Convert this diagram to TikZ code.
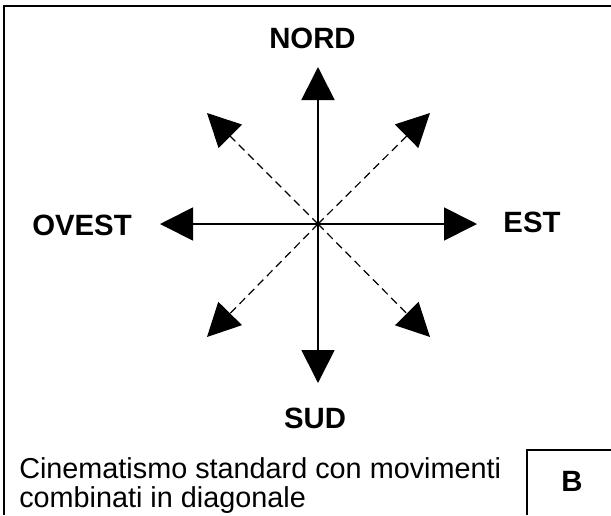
\documentclass[tikz,border=0pt]{standalone}
\usepackage{fontspec}
\setmainfont{Liberation Sans}
\usetikzlibrary{arrows.meta}
\tikzset{
  frame/.style={line width=1.6pt},
  axis/.style={line width=1.3pt,-{Triangle[length=24.75pt,width=24.75pt]}},
  diag/.style={line width=0.9pt,dash pattern=on 6pt off 3.75pt,-{Triangle[length=24.75pt,width=24.75pt]}},
  lbl/.style={inner sep=0pt,font=\fontsize{22pt}{26pt}\selectfont\bfseries},
  captext/.style={inner sep=0pt,anchor=base west,font=\fontsize{21.6pt}{26pt}\selectfont},
}
\begin{document}
\begin{tikzpicture}[x=0.75pt,y=-0.75pt]
\useasboundingbox (0,0) rectangle (611,515);
\draw[frame] (4,515) -- (4,6) -- (611,6);
\draw[frame] (527,515) -- (527,450) -- (611,450);
\coordinate (c) at (318,224);
\coordinate (n) at (318,67);
\coordinate (s) at (318,383);
\coordinate (e) at (477,224);
\coordinate (w) at (160,224);
\coordinate (ne) at (430,113);
\coordinate (nw) at (207,113);
\coordinate (se) at (430,337);
\coordinate (sw) at (207,337);
\draw[axis] (c) -- (n);
\draw[axis] (c) -- (s);
\draw[axis] (c) -- (e);
\draw[axis] (c) -- (w);
\draw[diag] (c) -- (ne);
\draw[diag] (c) -- (nw);
\draw[diag] (c) -- (se);
\draw[diag] (c) -- (sw);
\node[lbl] (nord) at (312.5,38.5) {NORD};
\node[lbl] (ovest) at (82,225) {OVEST};
\node[lbl] (est) at (532,222.5) {EST};
\node[lbl] (sud) at (315,418) {SUD};
\node[captext] (cap1) at (19,478) {Cinematismo standard con movimenti};
\node[captext] (cap2) at (19,507) {combinati in diagonale};
\node[lbl] (b) at (572,481) {B};
\end{tikzpicture}
\end{document}
